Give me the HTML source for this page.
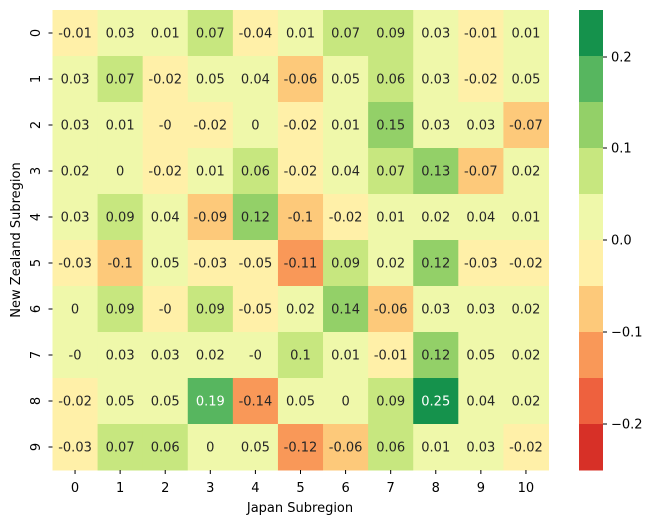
<!DOCTYPE html>
<html><head><style>
body{margin:0;background:#fff;}
</style></head><body>
<svg width="656" height="525" xmlns="http://www.w3.org/2000/svg" font-family="DejaVu Sans, Liberation Sans, sans-serif" font-size="13">
<g id="cells"></g>
<g id="cb"></g>
<g id="ax" fill="#262626"></g>
<text x="300" y="512" text-anchor="middle" fill="#000">Japan Subregion</text>
<text transform="translate(20,240) rotate(-90)" text-anchor="middle" fill="#000">New Zealand Subregion</text>
<script>
const vals=[
["-0.01","0.03","0.01","0.07","-0.04","0.01","0.07","0.09","0.03","-0.01","0.01"],
["0.03","0.07","-0.02","0.05","0.04","-0.06","0.05","0.06","0.03","-0.02","0.05"],
["0.03","0.01","-0","-0.02","0","-0.02","0.01","0.15","0.03","0.03","-0.07"],
["0.02","0","-0.02","0.01","0.06","-0.02","0.04","0.07","0.13","-0.07","0.02"],
["0.03","0.09","0.04","-0.09","0.12","-0.1","-0.02","0.01","0.02","0.04","0.01"],
["-0.03","-0.1","0.05","-0.03","-0.05","-0.11","0.09","0.02","0.12","-0.03","-0.02"],
["0","0.09","-0","0.09","-0.05","0.02","0.14","-0.06","0.03","0.03","0.02"],
["-0","0.03","0.03","0.02","-0","0.1","0.01","-0.01","0.12","0.05","0.02"],
["-0.02","0.05","0.05","0.19","-0.14","0.05","0","0.09","0.25","0.04","0.02"],
["-0.03","0.07","0.06","0","0.05","-0.12","-0.06","0.06","0.01","0.03","-0.02"]];
const codes=["EFFGEFGGFEF","FGEFFDFGFEF","FFEEFEFHFFD","FFEFGEFGHDF","FGFDHDEFFFF","EDFEECGFHEE","FGEGEFHDFFF","FFFFFGFEHFF","EFFICFFGJFF","EGGFFCDGFFE"];
const col={A:"#d73027",B:"#ee613e",C:"#f99858",D:"#fdc97a",E:"#fff0a8",F:"#eff8aa",G:"#c7e77f",H:"#93d068",I:"#57b65f",J:"#15924c"};
const ns="http://www.w3.org/2000/svg";
function el(p,t,a,txt){const e=document.createElementNS(ns,t);for(const k in a)e.setAttribute(k,a[k]);if(txt!==undefined)e.textContent=txt;p.appendChild(e);return e;}
const g=document.getElementById("cells"),ax=document.getElementById("ax"),cb=document.getElementById("cb");
const L=52.5,T=10,W=45.09,H=46;
for(let r=0;r<10;r++)for(let c=0;c<11;c++){
 const x=L+c*W,y=T+r*H,code=codes[r][c];
 el(g,"rect",{x:x,y:y,width:W+0.5,height:H+0.5,fill:col[code]});
 el(g,"text",{x:x+W/2,y:y+H/2+4.5,"text-anchor":"middle",fill:(code=="I"||code=="J")?"#fff":"#262626"},vals[r][c]);
}
for(let c=0;c<11;c++){const x=L+c*W+W/2;el(ax,"line",{x1:x,x2:x,y1:470,y2:474,stroke:"#000"});el(ax,"text",{x:x,y:492,"text-anchor":"middle",fill:"#000"},c);}
for(let r=0;r<10;r++){const y=T+r*H+H/2;el(ax,"line",{x1:48.5,x2:52.5,y1:y,y2:y,stroke:"#000"});el(ax,"text",{transform:`translate(40,${y}) rotate(-90)`,"text-anchor":"middle",fill:"#000"},r);}
const keys="JIHGFEDCBA";
for(let i=0;i<10;i++)el(cb,"rect",{x:579,y:10+i*46,width:24,height:46.5,fill:col[keys[i]]});
[["0.2",57],["0.1",148],["0.0",240],["\u22120.1",332],["\u22120.2",424]].forEach(([t,y])=>{
 el(cb,"line",{x1:603,x2:607,y1:y,y2:y,stroke:"#000"});
 el(cb,"text",{x:611,y:y+4.5,fill:"#000"},t);});
</script>
</svg>
</body></html>
